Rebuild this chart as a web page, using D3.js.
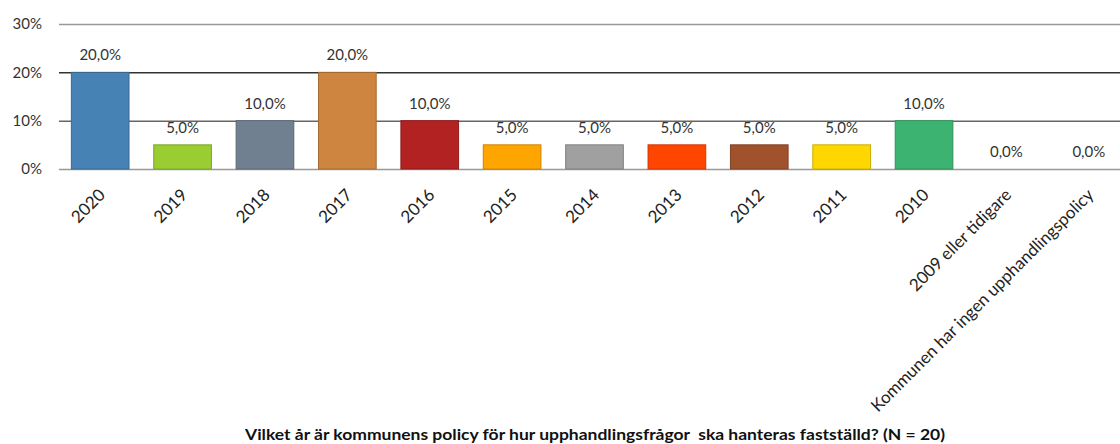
<!DOCTYPE html>
<html>
<head>
<meta charset="utf-8">
<script src="https://cdn.jsdelivr.net/npm/d3@7"></script>
<style>
body { margin: 0; background: #fff; }
svg { display: block; font-family: Lato, "Open Sans", sans-serif; }
</style>
</head>
<body>
<svg id="main_svg" width="1120" height="444"></svg>
<script>
let categories = ["2020", "2019", "2018", "2017", "2016", "2015", "2014", "2013", "2012", "2011", "2010", "2009 eller tidigare", "Kommunen har ingen upphandlingspolicy"]
let values = [20, 5, 10, 20, 10, 5, 5, 5, 5, 5, 10, 0, 0]
let bar_colors = ["#4682b4", "#9acd32", "#708090", "#cd853f", "#b22222", "#ffa500", "#a0a0a0", "#ff4500", "#a0522d", "#ffd700", "#3cb371", "#999999", "#999999"]
let y_ticks = [0, 10, 20, 30]
let title = "Vilket år är kommunens policy för hur upphandlingsfrågor\u00a0 ska hanteras fastställd? (N = 20)"

let svg = d3.select("svg")

let x = d3.scaleBand()
    .domain(categories)
    .range([59, 1130])
    .paddingInner(0.3)
    .paddingOuter(0.15)

let y = d3.scaleLinear()
    .domain([0, 30])
    .range([169, 24])

// grid lines
svg.append("g")
    .selectAll("line")
    .data(y_ticks)
    .join("line")
    .attr("x1", 59)
    .attr("x2", 1120)
    .attr("y1", d => y(d) + 0.5)
    .attr("y2", d => y(d) + 0.5)
    .attr("stroke", d => d == 20 ? "#333" : (d == 10 ? "#666" : "#999"))
    .attr("stroke-width", 1.5)

// y axis labels
let yAxis = d3.axisLeft(y)
    .tickValues(y_ticks)
    .tickFormat(d => d + "%")
    .tickSize(0)
    .tickPadding(0)

let yg = svg.append("g")
    .attr("transform", "translate(42,0)")
    .call(yAxis)
yg.select(".domain").remove()
yg.selectAll("text")
    .attr("font-size", 15)
    .attr("font-family", "Lato, sans-serif")
    .attr("fill", "#333")

// bars
svg.append("g")
    .selectAll("rect")
    .data(values)
    .join("rect")
    .attr("x", (d, i) => x(categories[i]))
    .attr("y", d => y(d))
    .attr("width", x.bandwidth())
    .attr("height", d => y(0) - y(d))
    .attr("fill", (d, i) => bar_colors[i])
    .attr("stroke", (d, i) => d3.color(bar_colors[i]).darker(0.6))
    .attr("stroke-width", 1)

// value labels
svg.append("g")
    .selectAll("text")
    .data(values)
    .join("text")
    .attr("x", (d, i) => x(categories[i]) + x.bandwidth() / 2)
    .attr("y", d => y(d) - 12)
    .attr("text-anchor", "middle")
    .attr("font-size", 15)
    .attr("fill", "#333")
    .text(d => d.toFixed(1).replace(".", ",") + "%")

// x axis labels
let xAxis = d3.axisBottom(x).tickSize(0).tickPadding(0)
let xg = svg.append("g")
    .attr("transform", "translate(0,169)")
    .call(xAxis)
xg.select(".domain").remove()
xg.selectAll("text")
    .attr("font-size", 17)
    .attr("font-family", "Lato, sans-serif")
    .attr("fill", "#222")
    .attr("text-anchor", "end")
    .attr("dy", 0)
    .attr("transform", "translate(6,27) rotate(-45)")

// title
svg.append("text")
    .attr("x", 595)
    .attr("y", 440)
    .attr("text-anchor", "middle")
    .attr("font-size", 16)
    .attr("font-weight", "bold")
    .attr("fill", "#111")
    .attr("textLength", 700)
    .attr("lengthAdjust", "spacingAndGlyphs")
    .text(title)
</script>
</body>
</html>
